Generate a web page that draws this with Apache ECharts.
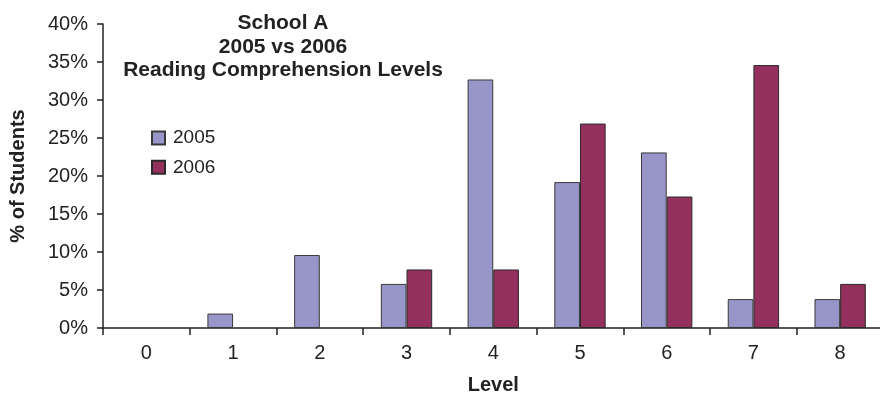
<!DOCTYPE html>
<html>
<head>
<meta charset="utf-8">
<script src="https://cdn.jsdelivr.net/npm/echarts@6/dist/echarts.min.js"></script>
<style>
  html, body { margin: 0; padding: 0; background: #fff; }
  #chart { width: 880px; height: 394px; }
</style>
</head>
<body>
<div id="chart"></div>
<script>
// Reading comprehension levels, share of students per level (%)
const levels = ['0', '1', '2', '3', '4', '5', '6', '7', '8'];
const seriesNames = ['2005', '2006'];
const values2005 = [0, 1.9, 9.6, 5.8, 32.7, 19.2, 23.1, 3.8, 3.8];
const values2006 = [0, 0, 0, 7.7, 7.7, 26.9, 17.3, 34.6, 5.8];
const yTicks = { min: 0, max: 40, step: 5 };

const FONT = 'Liberation Sans, Arial, Helvetica, sans-serif';
const INK = '#222';

// empty levels get no bar at all (not even a flat outline on the axis)
const asBars = (vals) => vals.map(v => (v === 0 ? '-' : v));

const chart = echarts.init(document.getElementById('chart'), null, { renderer: 'canvas' });

chart.setOption({
  backgroundColor: '#fff',
  animation: false,
  textStyle: { fontFamily: FONT, color: INK },
  title: {
    text: 'School A\n2005 vs 2006\nReading Comprehension Levels',
    left: 278,
    top: 6.5,
    textAlign: 'center',
    textStyle: {
      fontFamily: FONT,
      fontWeight: 'bold',
      fontSize: 21,
      lineHeight: 23.5,
      color: INK
    }
  },
  legend: {
    data: seriesNames,
    orient: 'vertical',
    left: 146,
    top: 123,
    itemWidth: 13,
    itemHeight: 13,
    itemGap: 9.3,
    icon: 'rect',
    textStyle: {
      fontFamily: FONT,
      fontSize: 19,
      lineHeight: 20,
      color: INK,
      padding: [0, 0, 0, 3]
    }
  },
  grid: {
    left: 103,
    right: -3.5,
    top: 24,
    bottom: 66,
    containLabel: false,
    outerBoundsMode: 'none'
  },
  xAxis: {
    type: 'category',
    data: levels,
    name: 'Level',
    nameLocation: 'middle',
    nameGap: 47,
    nameTextStyle: { fontFamily: FONT, fontWeight: 'bold', fontSize: 20, color: INK },
    axisLine: { lineStyle: { color: INK, width: 1.5 } },
    axisTick: { show: true, length: 7, lineStyle: { color: INK, width: 1.5 } },
    axisLabel: { fontFamily: FONT, fontSize: 20, color: INK, margin: 15 },
    splitLine: { show: false }
  },
  yAxis: {
    type: 'value',
    min: yTicks.min,
    max: yTicks.max,
    interval: yTicks.step,
    name: '% of Students',
    nameLocation: 'middle',
    nameGap: 75,
    nameRotate: 90,
    nameTextStyle: { fontFamily: FONT, fontWeight: 'bold', fontSize: 20, color: INK },
    axisLine: { show: true, lineStyle: { color: INK, width: 1.5 } },
    axisTick: { show: true, length: 6, lineStyle: { color: INK, width: 1.5 } },
    axisLabel: { fontFamily: FONT, fontSize: 20, color: INK, margin: 15, formatter: '{value}%' },
    splitLine: { show: false }
  },
  series: [
    {
      name: seriesNames[0],
      type: 'bar',
      data: asBars(values2005),
      barWidth: '29.6%',
      barGap: '0%',
      itemStyle: { color: '#9896c8', borderColor: '#3a3a3a', borderWidth: 1 }
    },
    {
      name: seriesNames[1],
      type: 'bar',
      data: asBars(values2006),
      barWidth: '29.6%',
      barGap: '0%',
      itemStyle: { color: '#93305e', borderColor: '#2a2a2a', borderWidth: 1 }
    }
  ]
});
</script>
</body>
</html>
